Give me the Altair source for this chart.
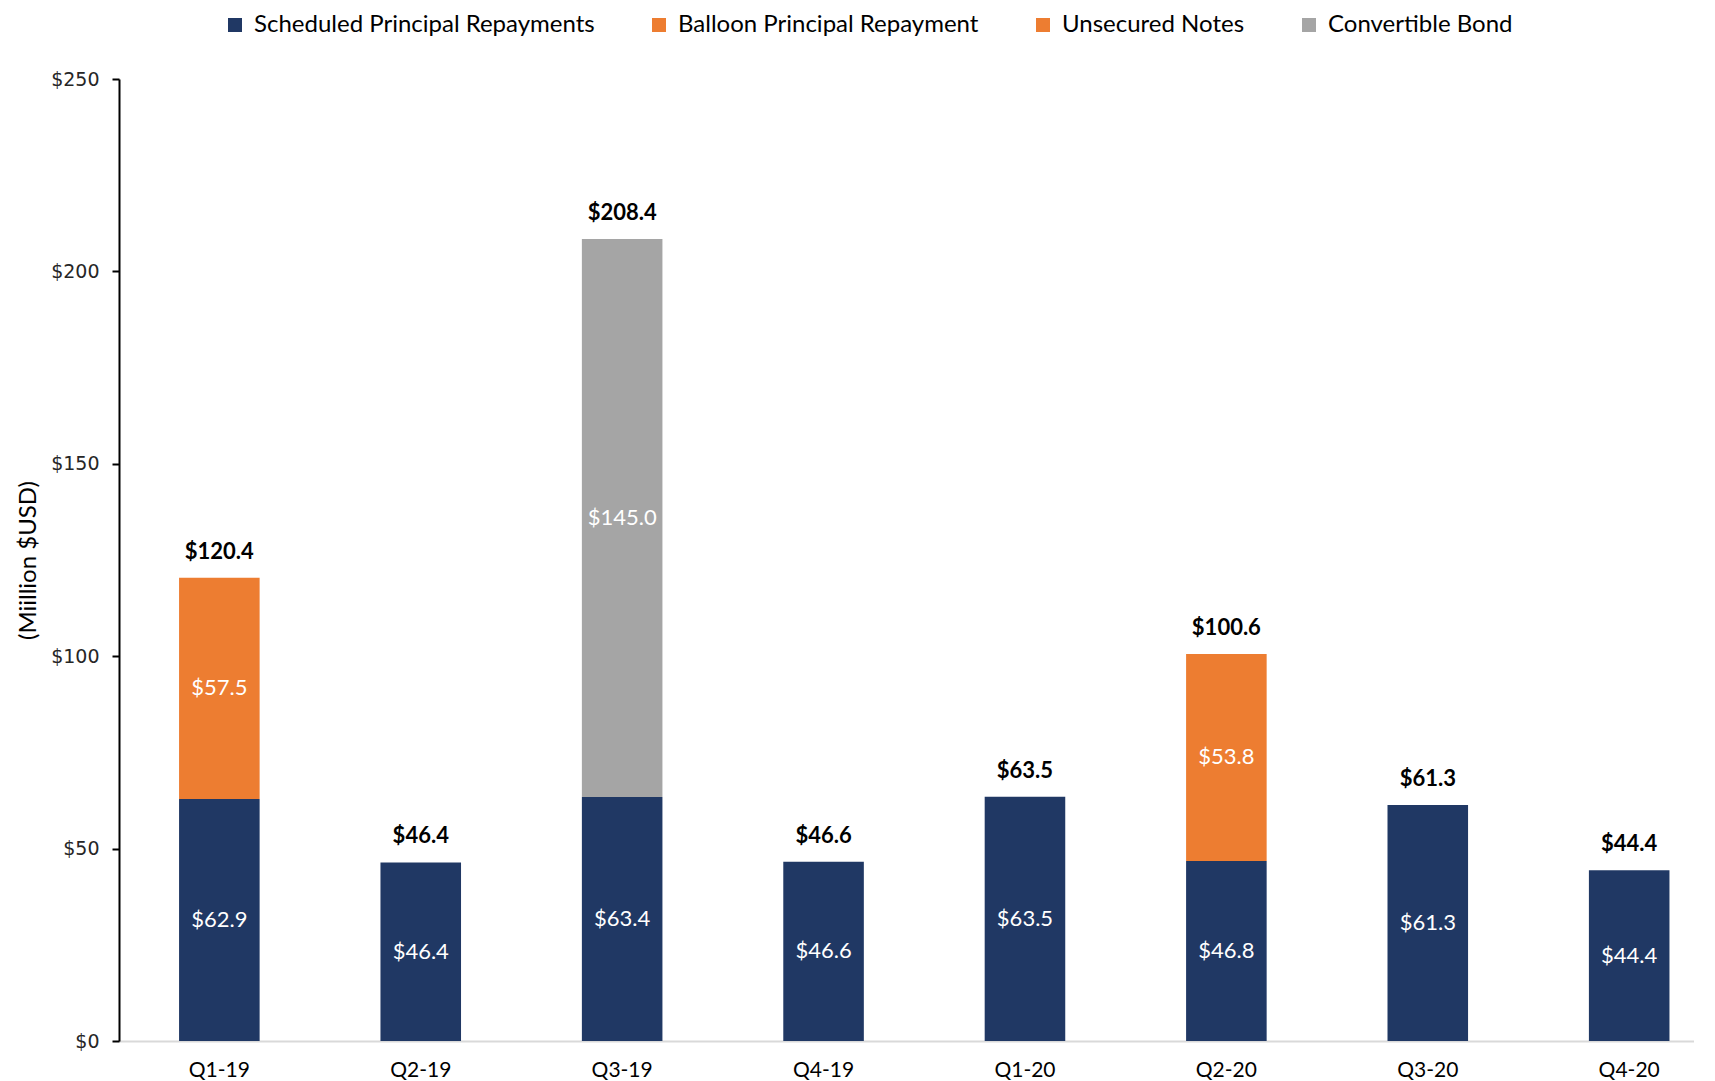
import altair as alt
import pandas as pd

quarters = ["Q1-19", "Q2-19", "Q3-19", "Q4-19", "Q1-20", "Q2-20", "Q3-20", "Q4-20"]
scheduled = [62.9, 46.4, 63.4, 46.6, 63.5, 46.8, 61.3, 44.4]
balloon = [57.5, 0, 0, 0, 0, 0, 0, 0]
unsecured = [0, 0, 0, 0, 0, 53.8, 0, 0]
convertible = [0, 0, 145.0, 0, 0, 0, 0, 0]

series_names = ["Scheduled Principal Repayments", "Balloon Principal Repayment",
                "Unsecured Notes", "Convertible Bond"]
series_colors = ["#203864", "#ED7D31", "#ED7D31", "#A5A5A5"]
series_values = [scheduled, balloon, unsecured, convertible]

rows = []
for si, (name, vals) in enumerate(zip(series_names, series_values)):
    for q, v in zip(quarters, vals):
        if v > 0:
            rows.append({"quarter": q, "series": name, "value": v, "order": si})
df = pd.DataFrame(rows)

totals = [round(a + b + c + d, 1) for a, b, c, d in zip(scheduled, balloon, unsecured, convertible)]
df_tot = pd.DataFrame({"quarter": quarters, "total": totals})

FONT = "Lato"

x_enc = alt.X("quarter:N", sort=quarters,
              scale=alt.Scale(paddingInner=0.6, paddingOuter=0.21, align=0.71),
              axis=alt.Axis(title=None, labelAngle=0, labelFont=FONT, labelFontSize=21,
                            labelColor="#000000", ticks=False, domainColor="#d9d9d9",
                            domainWidth=2, labelPadding=18))

y_scale = alt.Scale(domain=[0, 250])

bars = alt.Chart(df).mark_bar().encode(
    x=x_enc,
    y=alt.Y("value:Q", stack="zero", scale=y_scale,
            axis=alt.Axis(title="(Miillion $USD)", values=[0, 50, 100, 150, 200, 250],
                          labelExpr="'$' + datum.value", labelFont="DejaVu Sans",
                          labelFontSize=19, labelColor="#262626", grid=False,
                          domainColor="#000000", domainWidth=2, tickColor="#000000",
                          tickSize=7, tickWidth=2, labelPadding=13,
                          titleFont=FONT, titleFontSize=24, titleFontWeight="normal",
                          titleColor="#000000", titlePadding=10)),
    color=alt.Color("series:N", sort=series_names,
                    scale=alt.Scale(domain=series_names, range=series_colors),
                    legend=alt.Legend(title=None, orient="none", direction="horizontal",
                                      legendX=104, legendY=-66, symbolType="square",
                                      symbolSize=196, symbolStrokeWidth=0,
                                      labelFont=FONT, labelFontSize=24, labelColor="#000000",
                                      labelLimit=600, columnPadding=52, labelOffset=7)),
    order=alt.Order("order:Q"),
)

seg_labels = alt.Chart(df).transform_stack(
    stack="value", groupby=["quarter"], as_=["y0", "y1"],
    sort=[alt.SortField("order", order="ascending")]
).transform_calculate(
    mid="(datum.y0 + datum.y1) / 2",
    label="'$' + format(datum.value, '.1f')"
).mark_text(font=FONT, fontSize=22, color="#ffffff").encode(
    x=alt.X("quarter:N", sort=quarters),
    y=alt.Y("mid:Q", scale=y_scale),
    text="label:N",
)

tot_labels = alt.Chart(df_tot).transform_calculate(
    label="'$' + format(datum.total, '.1f')"
).mark_text(font=FONT, fontSize=22, fontWeight="bold", color="#000000", dy=-26).encode(
    x=alt.X("quarter:N", sort=quarters),
    y=alt.Y("total:Q", scale=y_scale),
    text="label:N",
)

chart = alt.layer(bars, seg_labels, tot_labels).properties(
    width=1575, height=962,
    padding={"left": 8, "top": 5, "right": 0, "bottom": 0},
    background="#ffffff",
).configure_view(stroke=None)

chart.save("out.html", embed_options={"renderer": "svg", "actions": False})
